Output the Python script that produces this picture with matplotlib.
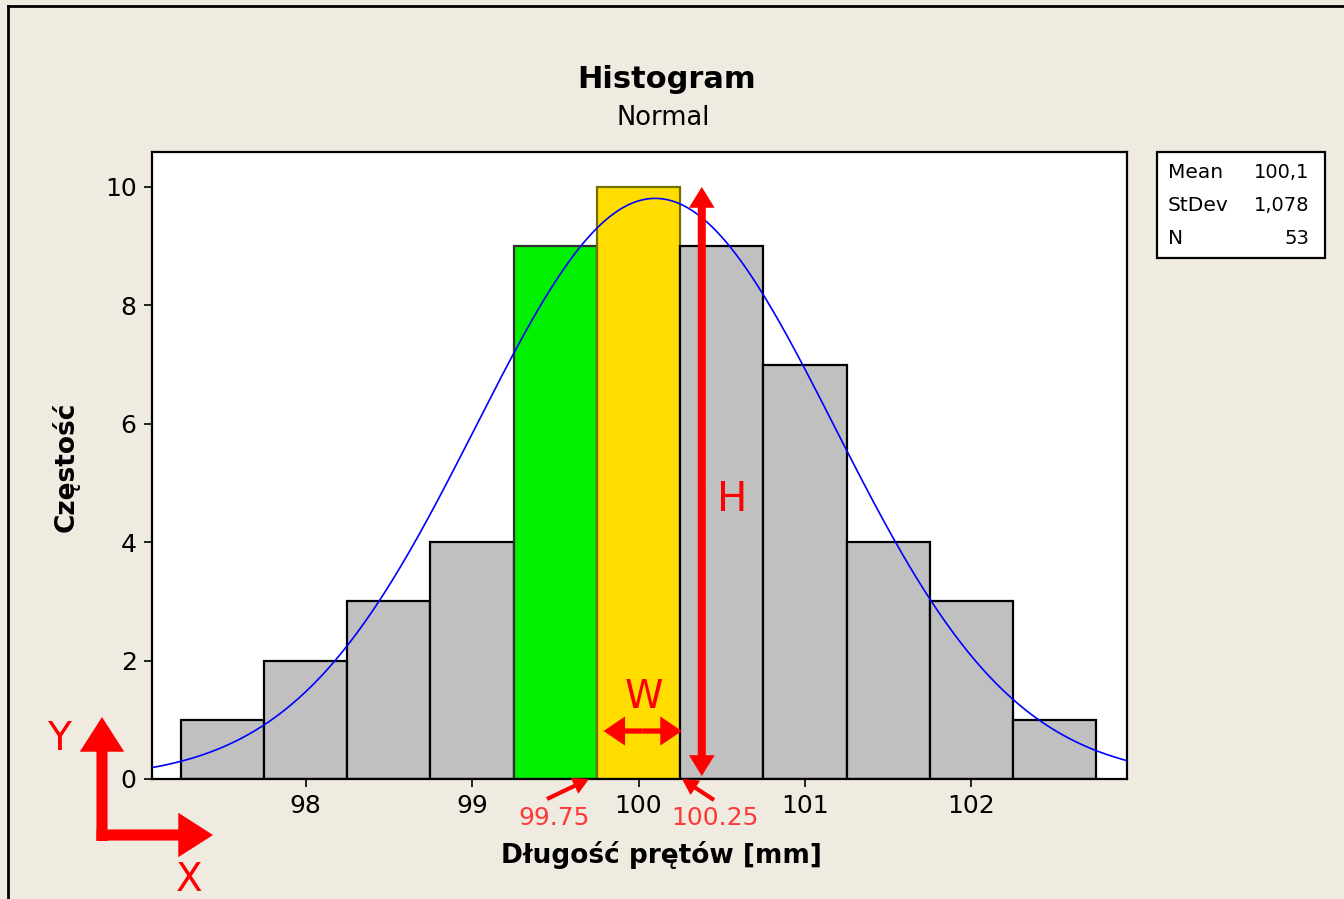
import matplotlib
matplotlib.use("Agg")
import matplotlib.pyplot as plt
import numpy as np
from matplotlib.patches import Rectangle, FancyArrowPatch
from matplotlib.lines import Line2D

# --- dane ---------------------------------------------------------------
bin_centers = [97.5, 98.0, 98.5, 99.0, 99.5, 100.0, 100.5, 101.0, 101.5, 102.0, 102.5]
counts = [1, 2, 3, 4, 9, 10, 9, 7, 4, 3, 1]
bin_width = 0.5
bar_colors = ["#C0C0C0"] * 4 + ["#00F000", "#FFDD00"] + ["#C0C0C0"] * 5
bar_edges = ["#000000"] * 4 + ["#303030", "#707000"] + ["#000000"] * 5
x_ticks = [98, 99, 100, 101, 102]
y_ticks = [0, 2, 4, 6, 8, 10]
stat_names = ["Mean", "StDev", "N"]
stat_values = ["100,1", "1,078", "53"]
mean, stdev, n_obs = 100.1, 1.078, 53

BG = "#EFEBE0"
RED = "#FF0000"
W, H = 1344, 899
XLIM = (97.078, 102.934)


def fx(px):
    return px / W


def fy(py):
    return 1 - py / H


def arrow(p0, p1, tail, head_w, head_l, transform, **kw):
    """Pełna (wypełniona) strzałka od p0 do p1; wymiary w punktach."""
    style = f"simple,tail_width={tail},head_width={head_w},head_length={head_l}"
    return FancyArrowPatch(p0, p1, arrowstyle=style, mutation_scale=1,
                           color=RED, lw=0, shrinkA=0, shrinkB=0,
                           transform=transform, **kw)


plt.rcParams["font.family"] = ["DejaVu Sans"]
fig = plt.figure(figsize=(13.44, 8.99), dpi=100, facecolor=BG)
ax = fig.add_axes([fx(152), fy(779), fx(1127) - fx(152), fy(152) - fy(779)])
ax.set_facecolor("white")

ax.bar(bin_centers, counts, width=bin_width, color=bar_colors,
       edgecolor=bar_edges, linewidth=1.6, zorder=2)

# dopasowana krzywa normalna (z Mean / StDev / N)
xs = np.linspace(XLIM[0], XLIM[1], 400)
pdf = n_obs * bin_width / (stdev * np.sqrt(2 * np.pi)) * np.exp(-0.5 * ((xs - mean) / stdev) ** 2)
ax.plot(xs, pdf, color="#0000FF", linewidth=1.2, zorder=3)

ax.set_xlim(*XLIM)
ax.set_ylim(0, 10.59)
ax.set_xticks(x_ticks)
ax.set_yticks(y_ticks)
ax.tick_params(direction="out", length=6, width=1.2, labelsize=18, colors="#000000", pad=5)
for s in ax.spines.values():
    s.set_linewidth(1.6)
ax.set_xlabel("Długość prętów [mm]", fontsize=19, fontweight="bold", va="center")
ax.xaxis.set_label_coords(0.523, -0.121)
ax.set_ylabel("Częstość", fontsize=19, fontweight="bold", va="center")
ax.yaxis.set_label_coords(-0.089, 0.498)

# H – wysokość (dwustronna)
h_mid = 5.0
for end in (10.0, 0.05):
    ax.add_patch(arrow((100.38, h_mid), (100.38, end), 5.8, 18.5, 15, ax.transData, zorder=5))
ax.text(100.56, 4.72, "H", color=RED, fontsize=29, ha="center", va="center", zorder=5)

# W – szerokość (dwustronna)
w_mid = 100.025
for end in (99.79, 100.26):
    ax.add_patch(arrow((w_mid, 0.81), (end, 0.81), 3.8, 21, 15.5, ax.transData, zorder=5))
ax.text(100.03, 1.38, "W", color=RED, fontsize=28, ha="center", va="center", zorder=5)

# etykiety granic przedziału
fig.text(fx(554), fy(818), "99.75", color="#FF3838", fontsize=18, ha="center", va="center")
fig.text(fx(715), fy(818), "100.25", color="#FF3838", fontsize=18, ha="center", va="center")
for tip, tail in [((589, 779), (547, 799)), ((682, 779), (714, 800))]:
    fig.add_artist(arrow((fx(tail[0]), fy(tail[1])), (fx(tip[0]), fy(tip[1])),
                         3.0, 12.5, 11.5, fig.transFigure))

# układ X/Y w lewym dolnym rogu
fig.add_artist(arrow((fx(102), fy(841)), (fx(102), fy(717)), 8, 32, 25, fig.transFigure))
fig.add_artist(arrow((fx(96.5), fy(835)), (fx(213), fy(835)), 8, 32, 25, fig.transFigure))
fig.text(fx(59), fy(739), "Y", color=RED, fontsize=28, ha="center", va="center")
fig.text(fx(189), fy(880), "X", color=RED, fontsize=28, ha="center", va="center")

# tytuły
fig.text(fx(667), fy(79), "Histogram", fontsize=22, fontweight="bold", ha="center", va="center")
fig.text(fx(663), fy(118), "Normal", fontsize=18.5, ha="center", va="center")

# tabelka statystyk
fig.patches.append(Rectangle((fx(1157), fy(258)), fx(1325) - fx(1157), fy(152) - fy(258),
                             transform=fig.transFigure, facecolor="white",
                             edgecolor="black", linewidth=1.6))
for i, (nm, val) in enumerate(zip(stat_names, stat_values)):
    yy = fy(173 + i * 32.5)
    fig.text(fx(1168), yy, nm, fontsize=14.5, ha="left", va="center")
    fig.text(fx(1309), yy, val, fontsize=14, ha="right", va="center")

# ramka zewnętrzna
fig.add_artist(Line2D([fx(8), fx(8)], [0, fy(6)], transform=fig.transFigure,
                      color="black", linewidth=2))
fig.add_artist(Line2D([fx(8), 1], [fy(6), fy(6)], transform=fig.transFigure,
                      color="black", linewidth=2))

fig.savefig("out.png", dpi=100, facecolor=BG)
